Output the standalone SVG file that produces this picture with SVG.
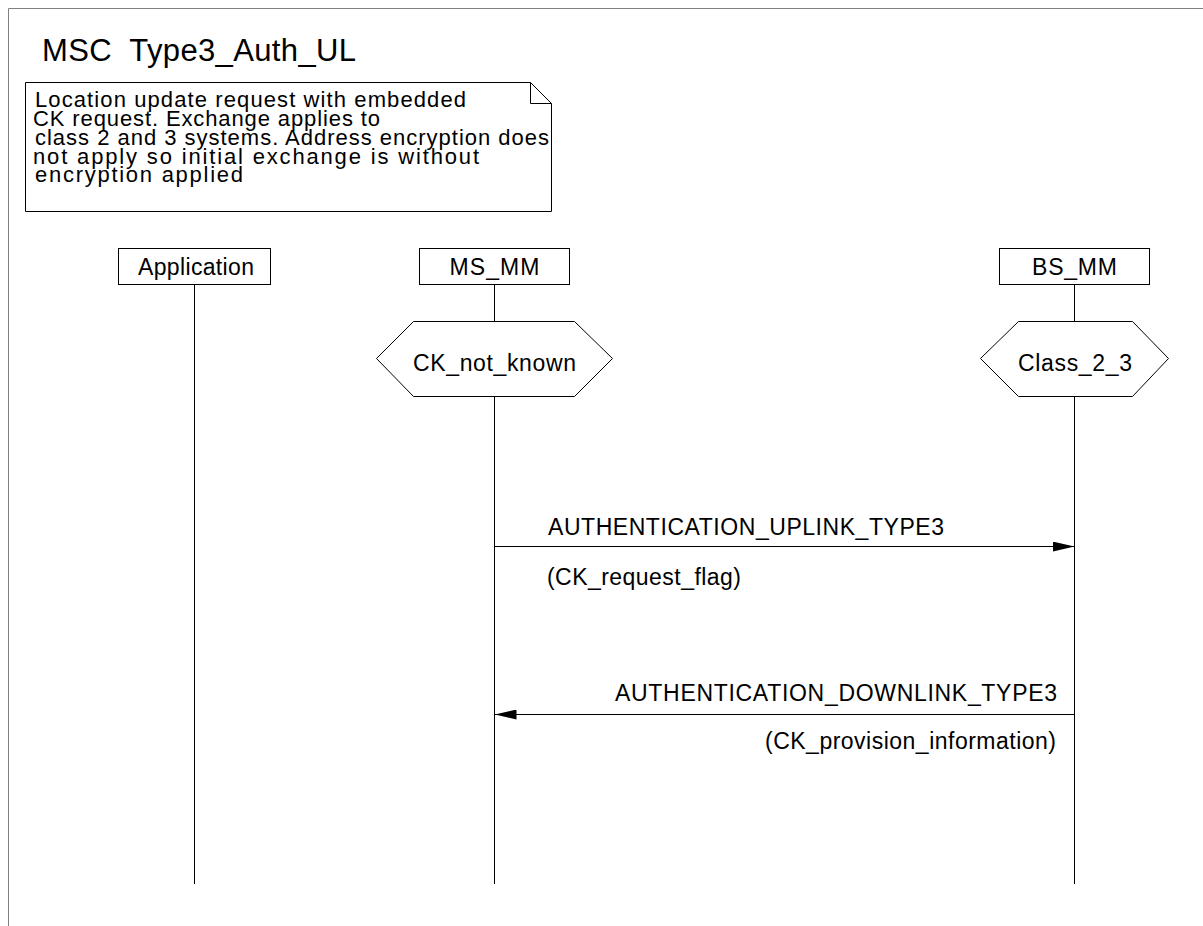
<svg xmlns="http://www.w3.org/2000/svg" width="1203" height="926" viewBox="0 0 1203 926">
<style>
text{font-family:"Liberation Sans",Arial,sans-serif;fill:#000}
.t{font-size:23px}
.n{font-size:22px}
.box{fill:#fff;stroke:#000;stroke-width:1}
.life{stroke:#000;stroke-width:1;fill:none}
.msg{stroke:#000;stroke-width:1;fill:none}
</style>
<defs>
<marker id="ah" viewBox="0 0 22 10" refX="22" refY="5" markerWidth="22" markerHeight="10" markerUnits="userSpaceOnUse" orient="auto">
<path d="M0,0 L22,5 L0,10 Z" fill="#000"/>
</marker>
</defs>
<rect width="1203" height="926" fill="#fff"/>
<g id="frame">
<path d="M8.5,926 V8.5 H1203" fill="none" stroke="#808080" stroke-width="1"/>
<text x="42" y="61" style="font-size:31px" textLength="314" xml:space="preserve">MSC  Type3_Auth_UL</text>
</g>
<g id="note">
<path d="M25.5,82.5 H530.5 L551.5,103.5 V211.5 H25.5 Z" class="box"/>
<path d="M530.5,82.5 V103.5 H551.5" class="life"/>
<text class="n" x="35" y="107" textLength="431">Location update request with embedded</text>
<text class="n" x="33" y="125.5" textLength="347">CK request. Exchange applies to</text>
<text class="n" x="35" y="144.5" textLength="514">class 2 and 3 systems. Address encryption does</text>
<text class="n" x="33" y="163.5" textLength="446">not apply so initial exchange is without</text>
<text class="n" x="35" y="182" textLength="208">encryption applied</text>
</g>
<g id="Application">
<rect x="118.5" y="248.5" width="152" height="36" class="box"/>
<text class="t" x="138" y="275" textLength="116">Application</text>
<line x1="194.5" y1="284.5" x2="194.5" y2="884" class="life"/>
</g>
<g id="MS_MM">
<rect x="419.5" y="248.5" width="150" height="36" class="box"/>
<text class="t" x="449.5" y="275" textLength="90">MS_MM</text>
<line x1="494.5" y1="284.5" x2="494.5" y2="321" class="life"/>
<line x1="494.5" y1="396" x2="494.5" y2="884" class="life"/>
</g>
<g id="CK_not_known">
<polygon points="413.5,321.5 574.5,321.5 612.5,358.5 574.5,396.5 413.5,396.5 376.5,358.5" class="box"/>
<text class="t" x="413" y="371" textLength="163">CK_not_known</text>
</g>
<g id="BS_MM">
<rect x="999.5" y="248.5" width="150" height="36" class="box"/>
<text class="t" x="1032" y="275" textLength="85">BS_MM</text>
<line x1="1074.5" y1="284.5" x2="1074.5" y2="321" class="life"/>
<line x1="1074.5" y1="396" x2="1074.5" y2="884" class="life"/>
</g>
<g id="Class_2_3">
<polygon points="1018.5,321.5 1132.5,321.5 1168.5,358.5 1132.5,396.5 1018.5,396.5 980.5,358.5" class="box"/>
<text class="t" x="1018" y="371" textLength="114">Class_2_3</text>
</g>
<g id="connectors">
<line x1="494.5" y1="546.5" x2="1074.5" y2="546.5" class="msg" marker-end="url(#ah)"/>
<text class="t" x="548" y="535" textLength="396">AUTHENTICATION_UPLINK_TYPE3</text>
<text class="t" x="547" y="585" textLength="194">(CK_request_flag)</text>
<line x1="1074.5" y1="714.5" x2="494.5" y2="714.5" class="msg" marker-end="url(#ah)"/>
<text class="t" x="615" y="701" textLength="442">AUTHENTICATION_DOWNLINK_TYPE3</text>
<text class="t" x="765" y="749" textLength="291">(CK_provision_information)</text>
</g>
</svg>
